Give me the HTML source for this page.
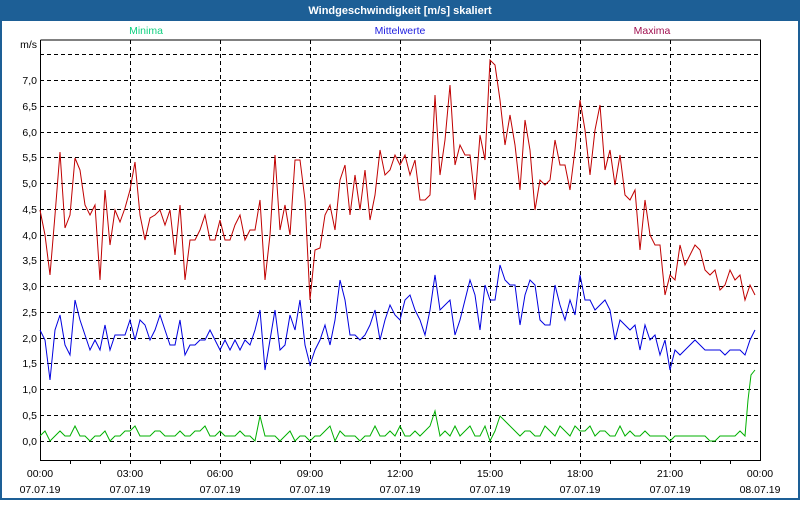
<!DOCTYPE html>
<html><head><meta charset="utf-8"><style>
body{margin:0;width:800px;height:500px;overflow:hidden;background:#fff;font-family:"Liberation Sans",sans-serif}
</style></head><body>
<svg width="800" height="500" xmlns="http://www.w3.org/2000/svg" font-family="Liberation Sans, sans-serif" font-size="10.5">
<rect x="0" y="0" width="800" height="500" fill="#1d5f96"/>
<rect x="2" y="21" width="796" height="477" fill="#fff"/>
<text x="400" y="14" fill="#fff" font-weight="bold" font-size="11" text-anchor="middle">Windgeschwindigkeit [m/s] skaliert</text>
<text x="146" y="34" fill="#10d080" text-anchor="middle">Minima</text>
<text x="400" y="34" fill="#2020e0" text-anchor="middle">Mittelwerte</text>
<text x="652" y="34" fill="#a01050" text-anchor="middle">Maxima</text>
<g stroke="#000" stroke-dasharray="4,3" stroke-width="1">
<path d="M40 54.5H760M40 80.5H760M40 106.5H760M40 132.5H760M40 157.5H760M40 183.5H760M40 209.5H760M40 235.5H760M40 260.5H760M40 286.5H760M40 312.5H760M40 338.5H760M40 363.5H760M40 389.5H760M40 415.5H760M40 441.5H760"/>
<path d="M130.5 40V460M220.5 40V460M310.5 40V460M400.5 40V460M490.5 40V460M580.5 40V460M670.5 40V460"/>
</g>
<path d="M40.5 40V460.5H760.5V40H40.5" fill="none" stroke="#000"/>
<g stroke="#000"><path d="M70.5 460v4M100.5 460v4M130.5 460v4M160.5 460v4M190.5 460v4M220.5 460v4M250.5 460v4M280.5 460v4M310.5 460v4M340.5 460v4M370.5 460v4M400.5 460v4M430.5 460v4M460.5 460v4M490.5 460v4M520.5 460v4M550.5 460v4M580.5 460v4M610.5 460v4M640.5 460v4M670.5 460v4M700.5 460v4M730.5 460v4"/></g>
<g text-anchor="end" fill="#000">
<text x="37" y="48">m/s</text>
<text x="37" y="84">7,0</text><text x="37" y="110">6,5</text><text x="37" y="136">6,0</text><text x="37" y="161">5,5</text><text x="37" y="187">5,0</text><text x="37" y="213">4,5</text><text x="37" y="239">4,0</text><text x="37" y="264">3,5</text><text x="37" y="290">3,0</text><text x="37" y="316">2,5</text><text x="37" y="342">2,0</text><text x="37" y="367">1,5</text><text x="37" y="393">1,0</text><text x="37" y="419">0,5</text><text x="37" y="445">0,0</text>
</g>
<g text-anchor="middle" fill="#000">
<text x="40" y="477">00:00</text><text x="40" y="493">07.07.19</text>
<text x="130" y="477">03:00</text><text x="130" y="493">07.07.19</text>
<text x="220" y="477">06:00</text><text x="220" y="493">07.07.19</text>
<text x="310" y="477">09:00</text><text x="310" y="493">07.07.19</text>
<text x="400" y="477">12:00</text><text x="400" y="493">07.07.19</text>
<text x="490" y="477">15:00</text><text x="490" y="493">07.07.19</text>
<text x="580" y="477">18:00</text><text x="580" y="493">07.07.19</text>
<text x="670" y="477">21:00</text><text x="670" y="493">07.07.19</text>
<text x="760" y="477">00:00</text><text x="760" y="493">08.07.19</text>
</g>
<polyline fill="none" stroke="#c00000" points="40,210 45,235 50,275 55,215 60,152 65,228 70,215 75,158 80,170 85,205 90,215 95,205 100,280 105,190 110,245 115,210 120,222 125,208 130,190 135,162 140,215 145,240 150,218 155,215 160,210 165,225 170,210 175,255 180,205 185,280 190,240 195,240 200,230 205,215 210,240 215,240 220,220 225,240 230,240 235,225 240,215 245,240 250,230 255,230 260,200 265,280 270,235 275,155 280,230 285,205 290,235 295,160 300,160 305,200 310,300 315,250 320,248 325,215 330,205 335,230 340,180 345,165 350,215 355,175 360,210 365,170 370,220 375,195 380,150 385,175 390,170 395,155 400,165 405,155 410,175 415,160 420,200 425,200 430,195 435,95 440,175 445,140 450,85 455,165 460,145 465,155 470,155 475,200 480,135 485,160 490,60 495,65 500,100 505,145 510,115 515,145 520,190 525,120 530,150 535,210 540,180 545,185 550,180 555,140 560,165 565,165 570,190 575,150 580,100 585,130 590,175 595,130 600,105 605,170 610,150 615,185 620,155 625,195 630,200 635,190 640,250 645,200 650,235 655,245 660,245 665,295 670,275 675,280 680,245 685,265 690,255 695,245 700,250 705,270 710,275 715,270 720,290 725,285 730,270 735,280 740,275 745,300 750,285 755,295"/>
<polyline fill="none" stroke="#0000e0" points="40,330 45,340 50,380 55,330 60,315 65,345 70,355 75,300 80,320 85,335 90,350 95,340 100,350 105,325 110,350 115,335 120,335 125,335 130,320 135,340 140,320 145,325 150,340 155,330 160,315 165,330 170,345 175,345 180,320 185,355 190,345 195,345 200,340 205,340 210,330 215,340 220,350 225,340 230,350 235,340 240,350 245,340 250,345 255,330 260,310 265,370 270,340 275,310 280,350 285,345 290,315 295,330 300,300 305,345 310,365 315,350 320,340 325,325 330,345 335,320 340,280 345,300 350,335 355,335 360,340 365,335 370,325 375,310 380,340 385,320 390,305 395,315 400,320 405,300 410,295 415,310 420,320 425,335 430,310 435,275 440,310 445,305 450,300 455,335 460,320 465,300 470,280 475,295 480,330 485,285 490,300 495,300 500,265 505,280 510,285 515,285 520,325 525,295 530,280 535,285 540,320 545,325 550,325 555,285 560,305 565,320 570,300 575,315 580,275 585,300 590,300 595,310 600,305 605,300 610,310 615,340 620,320 625,325 630,330 635,325 640,350 645,325 650,340 655,335 660,355 665,340 670,370 675,350 680,355 685,350 690,345 695,340 700,345 705,350 710,350 715,350 720,350 725,355 730,350 735,350 740,350 745,355 750,340 755,330"/>
<polyline fill="none" stroke="#00b000" points="40,436 45,431 50,441 55,436 60,431 65,436 70,436 75,426 80,436 85,436 90,441 95,436 100,436 105,431 110,441 115,436 120,436 125,431 130,431 135,426 140,436 145,436 150,436 155,431 160,431 165,436 170,436 175,436 180,431 185,436 190,436 195,431 200,431 205,426 210,436 215,436 220,431 225,436 230,436 235,436 240,431 245,436 250,436 255,441 260,416 265,436 270,436 275,436 280,441 285,436 290,431 295,441 300,436 305,436 310,441 315,436 320,436 325,431 330,426 335,441 340,431 345,436 350,436 355,436 360,441 365,436 370,436 375,426 380,436 385,436 390,431 395,436 400,426 405,436 410,436 415,431 420,436 425,431 430,426 435,411 440,436 445,431 450,436 455,426 460,436 465,431 470,426 475,436 480,436 485,426 490,441 495,431 500,416 505,421 510,426 515,431 520,436 525,431 530,431 535,436 540,436 545,426 550,431 555,436 560,426 565,431 570,436 575,426 580,431 585,431 590,426 595,436 600,431 605,431 610,436 615,436 620,426 625,436 630,431 635,436 640,436 645,431 650,436 655,436 660,436 665,436 670,441 675,436 680,436 685,436 690,436 695,436 700,436 705,436 710,441 715,441 720,436 725,436 730,436 735,436 740,431 745,436 748,400 751,375 755,370"/>
</svg>
</body></html>
